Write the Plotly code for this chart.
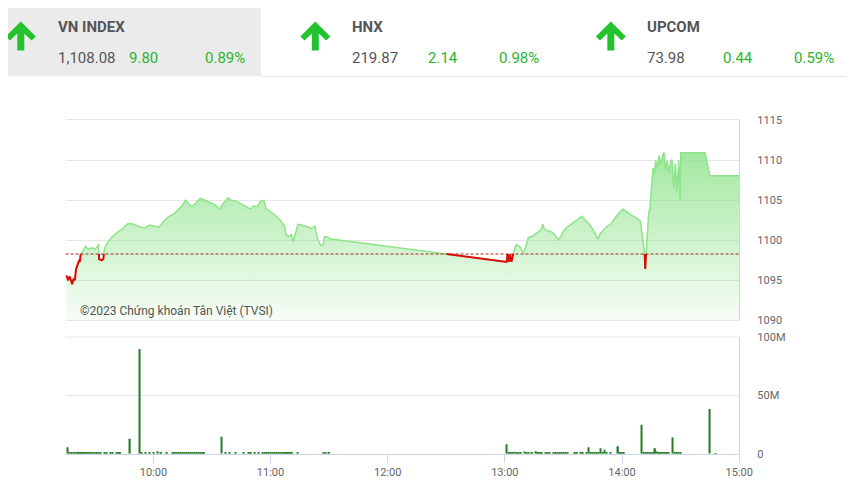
import plotly.graph_objects as go
from datetime import datetime

DAY = "2023-10-20"

# ---------------- header data ----------------
index_names = ["VN INDEX", "HNX", "UPCOM"]
index_close = [1108.08, 219.87, 73.98]
index_change = [9.80, 2.14, 0.44]
index_pct = [0.89, 0.98, 0.59]

# ---------------- intraday VN-Index ----------------
price_times = [
    "09:15:24", "09:16:24", "09:17:06", "09:17:48", "09:18:24", "09:19:06", "09:19:48", "09:20:24",
    "09:21:06", "09:21:48", "09:22:18", "09:22:48", "09:23:30", "09:24:18", "09:25:12", "09:26:48",
    "09:28:30", "09:30:12", "09:31:30", "09:31:54", "09:32:12", "09:33:30", "09:34:24", "09:34:42",
    "09:35:30", "09:36:54", "09:38:36", "09:41:06", "09:44:30", "09:47:00", "09:49:30", "09:52:00",
    "09:55:24", "09:57:54", "10:00:24", "10:03:00", "10:05:30", "10:08:00", "10:10:30", "10:13:00",
    "10:14:42", "10:16:24", "10:18:06", "10:19:42", "10:21:54", "10:23:54", "10:26:24", "10:28:54",
    "10:31:24", "10:34:00", "10:35:42", "10:37:00", "10:38:12", "10:39:54", "10:42:24", "10:44:54",
    "10:47:24", "10:49:54", "10:51:06", "10:53:18", "10:55:00", "10:56:36", "10:57:48", "11:00:00",
    "11:02:30", "11:05:00", "11:07:12", "11:07:54", "11:09:12", "11:10:36", "11:11:42", "11:12:54",
    "11:14:00", "11:16:00", "11:18:30", "11:21:00", "11:22:42", "11:24:00", "11:25:42", "11:26:54",
    "11:27:42", "11:29:24", "11:30:00",
    "13:00:54", "13:01:24", "13:02:06", "13:02:36", "13:03:24", "13:04:18", "13:05:06", "13:05:54",
    "13:07:36", "13:08:48", "13:09:36", "13:10:30", "13:11:18", "13:12:06", "13:13:48", "13:15:30",
    "13:17:12", "13:18:30", "13:19:24", "13:20:12", "13:21:54", "13:23:36", "13:25:36", "13:27:12",
    "13:28:36", "13:29:54", "13:31:36", "13:33:36", "13:36:06", "13:37:48", "13:39:30", "13:41:12",
    "13:42:42", "13:44:24", "13:45:42", "13:46:42", "13:47:48", "13:49:00", "13:50:24", "13:52:24",
    "13:54:06", "13:55:48", "13:57:54", "14:00:30", "14:03:48", "14:07:12", "14:09:24", "14:10:12",
    "14:10:54", "14:11:36", "14:11:54", "14:12:18", "14:12:54", "14:13:36", "14:14:18", "14:14:48",
    "14:15:18", "14:15:54", "14:16:36", "14:17:18", "14:18:06", "14:19:00", "14:19:48", "14:20:36",
    "14:21:30", "14:22:18", "14:23:06", "14:24:00", "14:24:48", "14:25:36", "14:26:30", "14:27:18",
    "14:28:06", "14:29:00", "14:29:48", "14:30:06", "14:42:30", "14:45:00", "15:00:00",
]
price_values = [
    1095.6, 1095.0, 1095.5, 1094.8, 1094.5, 1095.2, 1095.0, 1096.4,
    1096.8, 1097.4, 1097.3, 1098.3, 1098.45, 1098.85, 1099.25, 1098.85,
    1099.05, 1098.9, 1099.25, 1099.55, 1097.65, 1097.5, 1097.65, 1098.65,
    1099.25, 1099.85, 1100.35, 1100.9, 1101.5, 1102.1, 1102.05, 1101.75,
    1101.5, 1101.9, 1101.75, 1101.7, 1102.4, 1103.0, 1103.3, 1103.9,
    1104.3, 1105.0, 1104.55, 1104.2, 1104.7, 1105.25, 1105.0, 1104.7,
    1104.45, 1103.9, 1104.6, 1104.9, 1105.35, 1105.0, 1104.9, 1104.55,
    1104.2, 1103.9, 1104.3, 1104.2, 1104.9, 1105.0, 1103.9, 1103.6,
    1103.1, 1102.5, 1101.75, 1100.7, 1100.45, 1100.7, 1099.85, 1100.9,
    1102.0, 1101.9, 1101.7, 1101.5, 1101.75, 1100.25, 1099.35, 1099.4,
    1100.45, 1100.4, 1100.2,
    1097.3, 1098.3, 1097.3, 1098.25, 1097.3, 1098.3, 1099.05, 1099.45,
    1099.25, 1098.65, 1098.45, 1099.05, 1099.85, 1100.35, 1100.45, 1100.75,
    1101.15, 1101.3, 1102.0, 1101.4, 1101.2, 1101.1, 1100.7, 1100.05,
    1100.4, 1101.1, 1101.6, 1102.0, 1102.4, 1102.7, 1103.0, 1102.5,
    1102.2, 1101.6, 1101.1, 1100.7, 1100.15, 1100.9, 1101.3, 1101.75,
    1102.0, 1102.6, 1103.25, 1103.9, 1103.3, 1102.8, 1102.4, 1100.9,
    1099.25, 1098.35, 1096.4, 1098.35, 1100.05, 1103.3, 1104.1, 1105.35,
    1107.4, 1109.0, 1108.4, 1110.0, 1109.0, 1110.6, 1109.4, 1110.4,
    1111.0, 1108.8, 1110.0, 1108.4, 1109.8, 1110.1, 1106.55, 1109.6,
    1105.95, 1110.0, 1105.0, 1110.95, 1110.95, 1108.08, 1108.08,
]

# ---------------- volume (millions of shares) ----------------
volume_times = [
    "09:16", "09:17", "09:18", "09:19", "09:20", "09:21", "09:22", "09:23", "09:24", "09:25",
    "09:26", "09:27", "09:28", "09:29", "09:30", "09:31", "09:32", "09:33", "09:35", "09:36",
    "09:38", "09:39", "09:41", "09:42", "09:43", "09:48", "09:53", "09:54", "09:56", "09:58",
    "10:00", "10:02", "10:04", "10:07", "10:10", "10:11", "10:12", "10:13", "10:14", "10:15",
    "10:16", "10:17", "10:18", "10:19", "10:20", "10:21", "10:22", "10:23", "10:24", "10:25",
    "10:26", "10:35", "10:37", "10:39", "10:42", "10:46", "10:49", "10:50", "10:52", "10:54",
    "10:56", "10:57", "10:58", "10:59", "11:00", "11:01", "11:02", "11:03", "11:04", "11:05",
    "11:06", "11:07", "11:08", "11:09", "11:10", "11:11", "11:14", "11:27", "11:28", "11:30",
    "13:01", "13:02", "13:03", "13:04", "13:05", "13:06", "13:07", "13:08", "13:10", "13:11",
    "13:12", "13:14", "13:16", "13:17", "13:18", "13:19", "13:21", "13:22", "13:23", "13:25",
    "13:26", "13:27", "13:28", "13:29", "13:30", "13:31", "13:32", "13:36", "13:37", "13:39",
    "13:40", "13:42", "13:43", "13:44", "13:45", "13:46", "13:47", "13:48", "13:49", "13:50",
    "13:51", "13:52", "13:54", "13:58", "13:59", "14:00", "14:01", "14:10", "14:11", "14:12",
    "14:13", "14:14", "14:15", "14:16", "14:17", "14:18", "14:19", "14:20", "14:21", "14:22",
    "14:23", "14:24", "14:26", "14:27", "14:28", "14:29", "14:30", "14:45", "14:48",
]
volume_values_m = [
    5.6, 1.2, 1.5, 0.9, 1.1, 1.8, 1.0, 1.2, 0.9, 1.1,
    1.3, 1.0, 0.9, 1.2, 1.0, 1.1, 0.8, 1.0, 1.2, 0.9,
    1.1, 1.0, 1.2, 0.9, 1.0, 13.0, 89.7, 1.2, 0.8, 1.0,
    0.9, 2.2, 0.8, 0.9, 1.2, 1.0, 1.1, 1.3, 1.0, 1.2,
    0.9, 1.1, 1.0, 1.2, 1.1, 0.9, 1.0, 1.2, 0.9, 1.1,
    1.0, 14.7, 0.9, 0.8, 0.8, 0.9, 1.0, 0.8, 1.0, 0.9,
    1.1, 1.0, 0.9, 1.2, 1.0, 1.1, 1.0, 1.2, 1.0, 0.9,
    1.1, 1.0, 1.2, 1.0, 0.9, 1.1, 0.8, 0.9, 1.0, 0.8,
    8.3, 1.5, 1.0, 1.1, 1.8, 1.0, 1.1, 1.0, 2.0, 1.0,
    0.9, 1.0, 2.2, 1.0, 1.1, 0.9, 1.0, 1.0, 0.9, 1.0,
    1.1, 1.0, 0.9, 1.0, 1.1, 1.0, 0.9, 1.5, 1.0, 1.0,
    1.1, 1.0, 5.6, 1.2, 1.0, 1.1, 1.0, 1.2, 4.7, 1.3,
    3.6, 1.0, 0.9, 6.4, 1.0, 1.2, 1.0, 25.0, 1.5, 1.2,
    1.0, 1.1, 1.0, 1.2, 4.7, 2.0, 1.0, 1.3, 1.0, 1.1,
    1.0, 0.9, 13.9, 1.4, 1.0, 1.2, 0.9, 38.3, 0.6,
]

price_ticks = [1090, 1095, 1100, 1105, 1110, 1115]
volume_ticks = [0, 50, 100]
volume_tick_text = ["0", "50M", "100M"]
time_ticks = ["10:00", "11:00", "12:00", "13:00", "14:00", "15:00"]
x_start, x_end = "09:15", "15:00"
copyright_text = "©2023 Chứng khoán Tân Việt (TVSI)"


def ts(s):
    if len(s) == 5:
        s = s + ":00"
    return datetime.fromisoformat(f"{DAY} {s}")


# page is 860x499; the browser's default 8px body margin surrounds the figure
PAGE_W, PAGE_H, OFF = 860, 499, 8
W, H = PAGE_W - 2 * OFF, PAGE_H - 2 * OFF
def px(x):
    return (x - OFF) / W
def py(y):
    return 1 - (y - OFF) / H


ref = round(index_close[0] - index_change[0], 2)

# insert crossing points so the red (below reference) part is exact
xs = [ts(t) for t in price_times]
ys = price_values
aug_x, aug_y = [], []
for i in range(len(xs)):
    if i > 0:
        a, b = ys[i - 1], ys[i]
        if (a - ref) * (b - ref) < 0:
            f = (ref - a) / (b - a)
            aug_x.append(xs[i - 1] + (xs[i] - xs[i - 1]) * f)
            aug_y.append(ref)
    aug_x.append(xs[i])
    aug_y.append(ys[i])
red_y = [v if v <= ref else None for v in aug_y]

GREEN_LINE = "#8ee48a"
GRID = "#e6e6e6"
AXLINE = "#ccd6eb"
FONT = "Roboto"

fig = go.Figure()

fig.add_trace(go.Scatter(
    x=aug_x, y=aug_y, xaxis="x2", yaxis="y2", mode="lines",
    line=dict(color=GREEN_LINE, width=1.5),
    fill="tozeroy",
    fillgradient=dict(type="vertical", start=1090, stop=1115,
                      colorscale=[[0, "rgba(140,226,136,0.04)"], [1, "rgba(140,226,136,0.95)"]]),
    hoverinfo="skip",
))
fig.add_trace(go.Scatter(
    x=[ts(x_start), ts(x_end)], y=[ref, ref], xaxis="x2", yaxis="y2", mode="lines",
    line=dict(color="#a3261e", width=1, dash="3px,2px"), hoverinfo="skip",
))
fig.add_trace(go.Scatter(
    x=aug_x, y=red_y, xaxis="x2", yaxis="y2", mode="lines", connectgaps=False,
    line=dict(color="#dd0a0a", width=2), hoverinfo="skip",
))
fig.add_trace(go.Bar(
    x=[ts(t) for t in volume_times], y=volume_values_m, xaxis="x", yaxis="y",
    width=42000, marker=dict(color="#267a26", line=dict(width=0)), hoverinfo="skip",
))

xdom = [px(66.5), px(751.5)]
tickfont = dict(family=FONT, size=11, color="#666666")

fig.update_layout(
    width=W, height=H,
    margin=dict(l=0, r=0, t=0, b=0),
    paper_bgcolor="white", plot_bgcolor="white",
    showlegend=False,
    font=dict(family=FONT),
    xaxis=dict(
        domain=xdom, anchor="y", type="date", range=[ts(x_start), ts(x_end)],
        tickvals=[ts(t) for t in time_ticks], ticktext=time_ticks,
        ticks="outside", ticklen=8, tickcolor=AXLINE, tickwidth=1,
        showline=True, linecolor=AXLINE, linewidth=1,
        showgrid=False, zeroline=False, tickfont=tickfont,
    ),
    xaxis2=dict(
        domain=xdom, anchor="y2", type="date", matches="x",
        showticklabels=False, showgrid=False, showline=True, mirror=True,
        linecolor=GRID, linewidth=1, zeroline=False, ticks="",
    ),
    yaxis=dict(
        domain=[py(460), py(340)], anchor="x", range=[0, 100], side="right",
        tickvals=volume_ticks, ticktext=volume_tick_text,
        gridcolor=GRID, showline=True, linecolor=AXLINE, zeroline=False,
        tickfont=tickfont, ticklabelstandoff=15,
    ),
    yaxis2=dict(
        domain=[py(322.7), py(117.3)], anchor="x2", range=[1090, 1115], side="right",
        tickvals=price_ticks,
        gridcolor=GRID, showline=True, linecolor=AXLINE, zeroline=False,
        tickfont=tickfont, ticklabelstandoff=15,
    ),
)

# header
shapes = [
    dict(type="rect", xref="paper", yref="paper", x0=px(0), x1=px(265), y0=py(72), y1=py(0),
         fillcolor="#ebebeb", line=dict(width=0), layer="below"),
    dict(type="line", xref="paper", yref="paper", x0=px(265), x1=px(PAGE_W), y0=py(72), y1=py(72),
         line=dict(color="#e3e3e3", width=1)),
    dict(type="line", xref="x domain", yref="y domain", x0=0, x1=1, y0=1, y1=1,
         line=dict(color=GRID, width=1), layer="below"),
]
arrow_cx = [21, 320.5, 621]
title_x = [57, 356, 656]
change_x = [129, 433, 733]
pct_right = [251, 550, 850]
arrow_path = "M 0 15 L 15 0 L 10.8 -4.2 L 3.5 3 L 3.5 -14 L -3.5 -14 L -3.5 3 L -10.8 -4.2 L -15 0 Z"
annotations = []
GREEN_TXT = "#2cb52c"
for i, name in enumerate(index_names):
    shapes.append(dict(type="path", xref="paper", yref="paper", xsizemode="pixel", ysizemode="pixel",
                       xanchor=px(arrow_cx[i]), yanchor=py(31), path=arrow_path,
                       fillcolor="#22c32e", line=dict(width=0)))
    annotations.append(dict(xref="paper", yref="paper", x=px(title_x[i]), y=py(21.5),
                            xanchor="left", yanchor="middle", showarrow=False,
                            text=f"<b>{name}</b>", font=dict(family=FONT, size=15, color="#555555")))
    annotations.append(dict(xref="paper", yref="paper", x=px(title_x[i]), y=py(53),
                            xanchor="left", yanchor="middle", showarrow=False,
                            text=f"{index_close[i]:,.2f}", font=dict(family=FONT, size=15, color="#555555")))
    annotations.append(dict(xref="paper", yref="paper", x=px(change_x[i]), y=py(53),
                            xanchor="left", yanchor="middle", showarrow=False,
                            text=f"{index_change[i]:.2f}", font=dict(family=FONT, size=15, color=GREEN_TXT)))
    annotations.append(dict(xref="paper", yref="paper", x=px(pct_right[i]), y=py(53),
                            xanchor="right", yanchor="middle", showarrow=False,
                            text=f"{index_pct[i]:.2f}%", font=dict(family=FONT, size=15, color=GREEN_TXT)))

annotations.append(dict(xref="paper", yref="paper", x=px(79), y=py(313.5),
                        xanchor="left", yanchor="middle", showarrow=False,
                        text=copyright_text, font=dict(family=FONT, size=12, color="#555555")))

fig.update_layout(shapes=shapes, annotations=annotations)

fig.write_html("out.html", config={"displayModeBar": False})
